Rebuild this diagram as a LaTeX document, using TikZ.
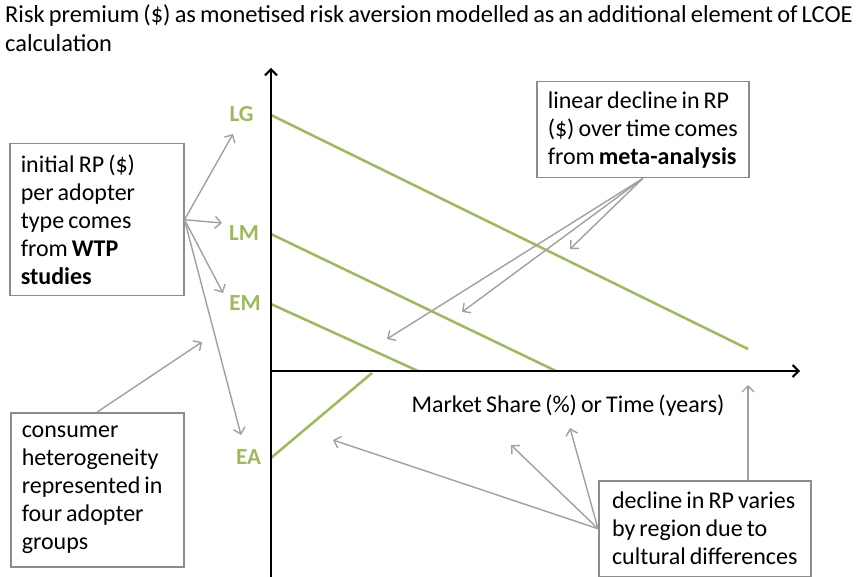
\documentclass[tikz,border=0pt]{standalone}
\usepackage{fontspec}
\setmainfont[WordSpace=0.75]{Carlito}
\usetikzlibrary{arrows.meta}
\definecolor{rpgreen}{RGB}{155,187,89}
\definecolor{arrgray}{RGB}{160,160,160}
\definecolor{boxgray}{RGB}{140,140,140}
\tikzset{
  txt/.style={font=\fontsize{24}{28}\selectfont},
  titletxt/.style={font=\fontsize{24.4}{29}\selectfont},
  box/.style={draw=boxgray, line width=1.5pt, fill=white, anchor=north west, align=flush left,
    inner xsep=11pt, inner ysep=0pt, font=\fontsize{24}{28}\selectfont},
  callout/.style={draw=arrgray, line width=1.4pt, -{Straight Barb[length=6pt,width=12pt,line width=1.4pt]}},
  axis/.style={draw=black, line width=2.5pt, -{Straight Barb[length=6pt,width=12pt,line width=2pt]}},
  curve/.style={draw=rpgreen, line width=2.5pt},
  grp/.style={text=rpgreen, font=\fontsize{23}{24}\selectfont\bfseries, inner sep=0pt}
}
\begin{document}
\begin{tikzpicture}[x=1pt,y=-1pt]
\useasboundingbox (0,0) rectangle (865,577);
% title
\node[titletxt, anchor=north west, align=flush left, inner sep=0pt] (title) at (5,4)
  {Risk premium (\$) as monetised risk aversion modelled as an additional element of LCOE\\calculation};
% axes
\coordinate (O) at (271,371);
\coordinate (ytop) at (271,68);
\coordinate (ybot) at (271,577);
\coordinate (xend) at (800,371);
% green lines
\coordinate (lg0) at (271,115);  \coordinate (lg1) at (748,349);
\coordinate (lm0) at (271,234);  \coordinate (lm1) at (556,371);
\coordinate (em0) at (271,304);  \coordinate (em1) at (418,371);
\coordinate (ea0) at (271,458);  \coordinate (ea1) at (372,373);
\draw[curve] (lg0) -- (lg1);
\draw[curve] (lm0) -- (lm1);
\draw[curve] (em0) -- (em1);
\draw[curve] (ea0) -- (ea1);
\draw[axis] (ybot) -- (ytop);
\draw[axis] (O) -- (xend);
% group labels
\node[grp] (LG) at (241.5,114) {LG};
\node[grp] (LM) at (244,233) {LM};
\node[grp] (EM) at (245,303) {EM};
\node[grp] (EA) at (248.5,457) {EA};
% axis label
\node[txt, inner sep=0pt] (xlab) at (568,406) {Market Share (\%) or Time (years)};
% boxes
\node[box, minimum width=174pt, minimum height=152pt, text width=152pt] (b1) at (9,143)
  {initial RP (\$)\\per adopter\\type comes\\from \textbf{WTP}\\\textbf{studies}};
\node[box, minimum width=212pt, minimum height=96pt] (b2) at (536,81)
  {linear decline in RP\\(\$) over time comes\\from \textbf{meta-analysis}};
\node[box, minimum width=173pt, minimum height=154pt, text width=151pt] (b3) at (10,412)
  {consumer\\heterogeneity\\represented in\\four adopter\\groups};
\node[box, minimum width=212pt, minimum height=96pt] (b4) at (598,480)
  {decline in RP varies\\by region due to\\cultural differences};
% arrow tips
\coordinate (t1a) at (233,134);
\coordinate (t1b) at (222,223);
\coordinate (t1c) at (223,293);
\coordinate (t1d) at (241,435);
\coordinate (t2a) at (570,249);
\coordinate (t2b) at (462,312);
\coordinate (t2c) at (387,339);
\coordinate (t3) at (202,342);
\coordinate (t4a) at (333,440);
\coordinate (t4b) at (511,445);
\coordinate (t4c) at (570,428);
\coordinate (t4d) at (748,385);
% callouts
\foreach \t in {t1a,t1b,t1c,t1d} \draw[callout] (b1.east) -- (\t);
\foreach \t in {t2a,t2b,t2c} \draw[callout] (b2.south) -- (\t);
\draw[callout] (b3.north) -- (t3);
\foreach \t in {t4a,t4b,t4c} \draw[callout] (b4.west) -- (\t);
\draw[callout] (b4.north -| t4d) -- (t4d);
\end{tikzpicture}
\end{document}
